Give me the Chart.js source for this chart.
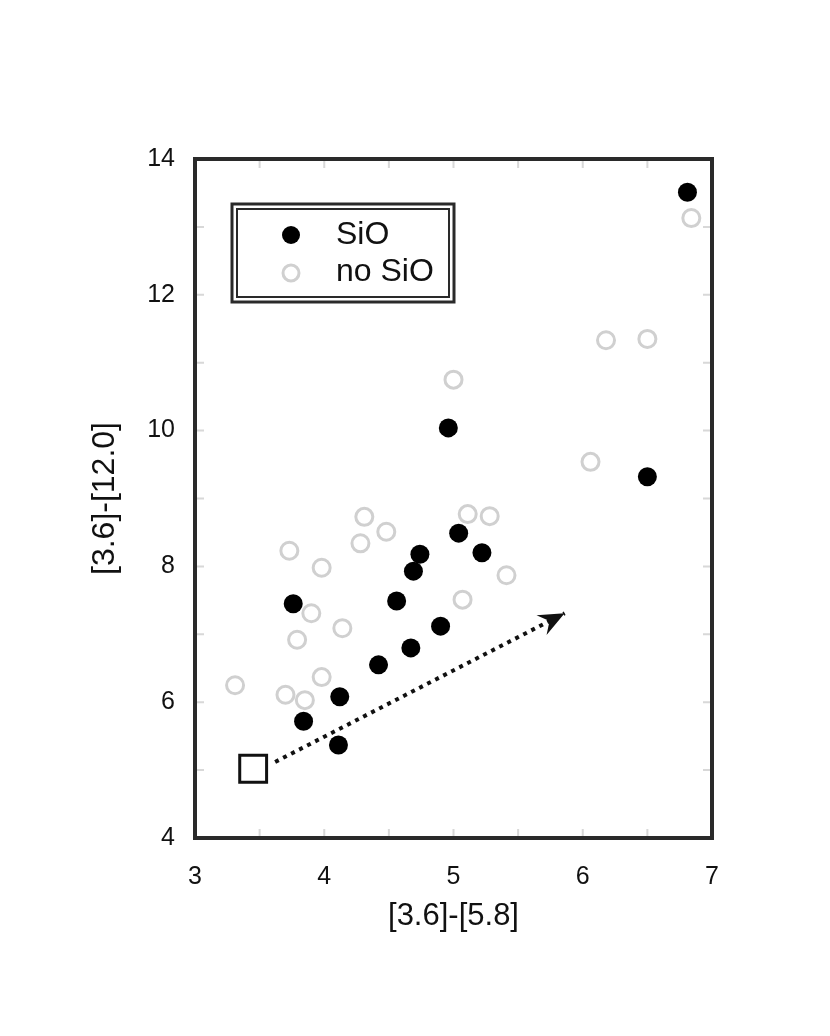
<!DOCTYPE html>
<html>
<head>
<meta charset="utf-8">
<script src="https://cdn.jsdelivr.net/npm/chart.js@4.4.0/dist/chart.umd.min.js"></script>
<style>
  html, body { margin: 0; padding: 0; background: #fff; }
  canvas { display: block; }
</style>
</head>
<body>
<canvas id="colorChart" width="830" height="1036"></canvas>
<script>
// SiO detections
const sioX = [6.81, 4.96, 6.50, 5.04, 4.74, 5.22, 4.69, 4.56, 3.76, 4.90, 4.67, 4.42, 4.12, 3.84, 4.11];
const sioY = [13.51, 10.04, 9.32, 8.49, 8.18, 8.20, 7.93, 7.49, 7.45, 7.12, 6.80, 6.55, 6.08, 5.72, 5.37];
// no SiO
const noSioX = [6.84, 6.18, 6.50, 5.00, 6.06, 4.31, 4.48, 4.28, 5.11, 5.28, 3.73, 3.98, 5.41, 5.07, 3.90, 4.14, 3.79, 3.98, 3.31, 3.70, 3.85];
const noSioY = [13.13, 11.33, 11.35, 10.75, 9.54, 8.73, 8.51, 8.34, 8.77, 8.74, 8.23, 7.98, 7.87, 7.51, 7.31, 7.09, 6.92, 6.37, 6.25, 6.11, 6.03];
// reference square and arrow
const refX = [3.45];
const refY = [5.02];
const arrowX = [3.62, 5.86];
const arrowY = [5.12, 7.31];

const xTicks = [3, 4, 5, 6, 7];
const yTicks = [4, 6, 8, 10, 12, 14];

const toPts = (xs, ys) => xs.map((x, i) => ({ x: x, y: ys[i] }));
const fontFam = '"Liberation Sans", Arial, Helvetica, sans-serif';

// frame, inward ticks, legend box and arrow head
const extras = {
    id: 'extras',
    beforeDatasetsDraw(chart) {
        const { ctx, chartArea: a, scales } = chart;
        ctx.save();
        ctx.strokeStyle = '#d8d8d8';
        ctx.lineWidth = 2;
        scales.x.ticks.forEach(t => {
            const px = scales.x.getPixelForValue(t.value);
            ctx.beginPath();
            ctx.moveTo(px, a.bottom); ctx.lineTo(px, a.bottom - 9);
            ctx.moveTo(px, a.top); ctx.lineTo(px, a.top + 9);
            ctx.stroke();
        });
        scales.y.ticks.forEach(t => {
            const py = scales.y.getPixelForValue(t.value);
            ctx.beginPath();
            ctx.moveTo(a.left, py); ctx.lineTo(a.left + 9, py);
            ctx.moveTo(a.right, py); ctx.lineTo(a.right - 9, py);
            ctx.stroke();
        });
        ctx.restore();
    },
    afterDatasetsDraw(chart) {
        const { ctx, chartArea: a, scales } = chart;
        ctx.save();
        // arrow head
        const x1 = scales.x.getPixelForValue(arrowX[0]), y1 = scales.y.getPixelForValue(arrowY[0]);
        const x2 = scales.x.getPixelForValue(arrowX[1]), y2 = scales.y.getPixelForValue(arrowY[1]);
        const ang = Math.atan2(y2 - y1, x2 - x1);
        ctx.translate(x2, y2);
        ctx.rotate(ang);
        ctx.fillStyle = '#111';
        ctx.beginPath();
        ctx.moveTo(0, 0);
        ctx.lineTo(-26, -11);
        ctx.lineTo(-17, 0);
        ctx.lineTo(-26, 11);
        ctx.closePath();
        ctx.fill();
        ctx.restore();

        // frame
        ctx.save();
        ctx.strokeStyle = '#2a2a2a';
        ctx.lineWidth = 4;
        ctx.strokeRect(a.left, a.top, a.right - a.left, a.bottom - a.top);

        // legend box
        const bx = a.left + 37, by = a.top + 45, bw = 222, bh = 98;
        ctx.lineWidth = 3;
        ctx.strokeRect(bx, by, bw, bh);
        ctx.lineWidth = 2;
        ctx.strokeRect(bx + 5, by + 5, bw - 10, bh - 10);
        ctx.fillStyle = '#000';
        ctx.beginPath();
        ctx.arc(bx + 59, by + 31, 9, 0, Math.PI * 2);
        ctx.fill();
        ctx.strokeStyle = '#d0d0d0';
        ctx.lineWidth = 3;
        ctx.beginPath();
        ctx.arc(bx + 59, by + 69, 8, 0, Math.PI * 2);
        ctx.stroke();
        ctx.fillStyle = '#111';
        ctx.font = '32px ' + fontFam;
        ctx.textBaseline = 'middle';
        ctx.fillText('SiO', bx + 104, by + 31);
        ctx.fillText('no SiO', bx + 104, by + 68);
        ctx.restore();
    }
};

new Chart(document.getElementById('colorChart'), {
    type: 'scatter',
    data: {
        datasets: [
            {
                label: 'arrow',
                data: toPts(arrowX, arrowY),
                showLine: true,
                borderColor: '#111',
                borderWidth: 4,
                borderDash: [4, 5],
                pointRadius: 0
            },
            {
                label: 'no SiO',
                data: toPts(noSioX, noSioY),
                pointRadius: 8.5,
                pointBorderWidth: 3,
                pointBorderColor: '#d0d0d0',
                pointBackgroundColor: 'rgba(255,255,255,0)'
            },
            {
                label: 'SiO',
                data: toPts(sioX, sioY),
                pointRadius: 9.5,
                pointBorderWidth: 0,
                pointBackgroundColor: '#000'
            },
            {
                label: 'ref',
                data: toPts(refX, refY),
                pointStyle: 'rect',
                pointRadius: 19,
                pointBorderWidth: 3,
                pointBorderColor: '#111',
                pointBackgroundColor: '#fff'
            }
        ]
    },
    options: {
        responsive: false,
        animation: false,
        devicePixelRatio: 1,
        layout: { padding: { left: 75, top: 159, right: 118, bottom: 98 } },
        plugins: {
            legend: { display: false },
            tooltip: { enabled: false }
        },
        scales: {
            x: {
                type: 'linear',
                min: 3, max: 7,
                afterFit: s => { s.height = 100; },
                grid: { display: false, drawTicks: false },
                border: { display: false },
                ticks: {
                    stepSize: 0.5,
                    padding: 24,
                    color: '#111',
                    font: { size: 25, family: fontFam },
                    callback: v => xTicks.includes(v) ? String(v) : ''
                },
                title: {
                    display: true,
                    text: '[3.6]-[5.8]',
                    color: '#111',
                    font: { size: 31, family: fontFam },
                    padding: { top: 0, bottom: 3 }
                }
            },
            y: {
                type: 'linear',
                min: 4, max: 14,
                afterFit: s => { s.width = 120; },
                grid: { display: false, drawTicks: false },
                border: { display: false },
                ticks: {
                    stepSize: 1,
                    padding: 20,
                    color: '#111',
                    font: { size: 25, family: fontFam },
                    callback: v => yTicks.includes(v) ? String(v) : ''
                },
                title: {
                    display: true,
                    text: '[3.6]-[12.0]',
                    color: '#111',
                    font: { size: 32, family: fontFam },
                    padding: { top: 11, bottom: 0 }
                }
            }
        }
    },
    plugins: [extras]
});
</script>
</body>
</html>
